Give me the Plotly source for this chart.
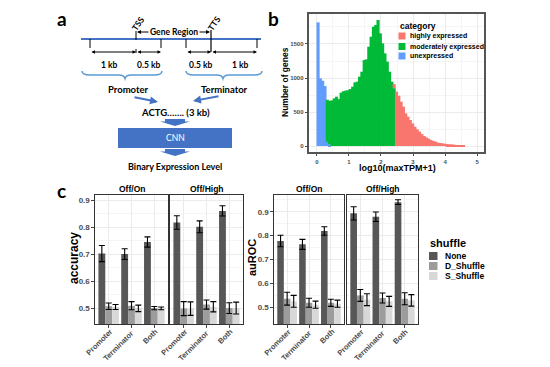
import plotly.graph_objects as go

W, H = 550, 367
def px(x): return x / W
def py(y): return 1 - y / H

# ---------------- panel b: histogram data ----------------
bin_width = 0.072
unexpressed_start = 0
unexpressed = [1818, 995, 960, 882, 60, 25]
moderately_start = 4
moderately = [620, 640, 670, 700, 725, 690, 785, 805, 815, 820, 838, 872, 936, 946,
              1019, 1093, 1264, 1274, 1460, 1607, 1754, 1779, 1852, 1656, 1509, 1362,
              1240, 1093, 946, 850]
highly_start = 33
highly = [60, 800, 740, 652, 578, 480, 431, 382, 333, 284, 245, 211, 176, 147, 127,
          108, 88, 73, 64, 49, 44, 39, 34, 29, 24, 24, 20, 15, 10, 8, 5]
hist_xticks = [0, 1, 2, 3, 4, 5]
hist_yticks = [0, 500, 1000, 1500]

# ---------------- panel c: bar data ----------------
regions = ["Promoter", "Terminator", "Both"]
shuffle_levels = ["None", "D_Shuffle", "S_Shuffle"]
shuffle_colors = ["#575757", "#9c9c9c", "#d8d8d8"]

acc_onoff_none = [0.702, 0.700, 0.745]
acc_onoff_d = [0.507, 0.509, 0.500]
acc_onoff_s = [0.504, 0.499, 0.499]
acc_onoff_none_err = [0.030, 0.020, 0.019]
acc_onoff_d_err = [0.012, 0.015, 0.006]
acc_onoff_s_err = [0.009, 0.012, 0.005]

acc_high_none = [0.817, 0.801, 0.860]
acc_high_d = [0.498, 0.513, 0.500]
acc_high_s = [0.498, 0.505, 0.500]
acc_high_none_err = [0.025, 0.022, 0.019]
acc_high_d_err = [0.026, 0.017, 0.020]
acc_high_s_err = [0.025, 0.019, 0.022]

auc_onoff_none = [0.777, 0.763, 0.819]
auc_onoff_d = [0.535, 0.518, 0.518]
auc_onoff_s = [0.524, 0.510, 0.514]
auc_onoff_none_err = [0.024, 0.021, 0.018]
auc_onoff_d_err = [0.027, 0.019, 0.015]
auc_onoff_s_err = [0.025, 0.015, 0.015]

auc_high_none = [0.893, 0.879, 0.940]
auc_high_d = [0.549, 0.538, 0.535]
auc_high_s = [0.531, 0.524, 0.528]
auc_high_none_err = [0.028, 0.020, 0.010]
auc_high_d_err = [0.025, 0.021, 0.025]
auc_high_s_err = [0.025, 0.021, 0.024]

acc_ticks = [0.5, 0.6, 0.7, 0.8, 0.9]
auc_ticks = [0.5, 0.6, 0.7, 0.8, 0.9]

fig = go.Figure()

# ---------- histogram (stacked via base) ----------
stack = {}
def add_hist(name, start, counts, color):
    xs, bases = [], []
    for i, c in enumerate(counts):
        b = start + i
        xs.append((b + 0.5) * bin_width)
        bases.append(stack.get(b, 0))
        stack[b] = stack.get(b, 0) + c
    # bars drawn slightly wider than the bin so neighbouring bins leave no seams
    fig.add_trace(go.Bar(x=xs, y=counts, base=bases, width=bin_width * 1.35, name=name,
                         marker=dict(color=color, line=dict(width=0)),
                         xaxis="x", yaxis="y", showlegend=False))

add_hist("unexpressed", unexpressed_start, unexpressed, "#619CFF")
add_hist("moderately expressed", moderately_start, moderately, "#00BA38")
add_hist("highly expressed", highly_start, highly, "#F8766D")

# ---------- grouped bars (dodge width 0.9) ----------
dodge = 0.9
bw = dodge / len(shuffle_levels)
panels = [
    ("x2", "y2", [acc_onoff_none, acc_onoff_d, acc_onoff_s],
     [acc_onoff_none_err, acc_onoff_d_err, acc_onoff_s_err]),
    ("x3", "y3", [acc_high_none, acc_high_d, acc_high_s],
     [acc_high_none_err, acc_high_d_err, acc_high_s_err]),
    ("x4", "y4", [auc_onoff_none, auc_onoff_d, auc_onoff_s],
     [auc_onoff_none_err, auc_onoff_d_err, auc_onoff_s_err]),
    ("x5", "y5", [auc_high_none, auc_high_d, auc_high_s],
     [auc_high_none_err, auc_high_d_err, auc_high_s_err]),
]
for xa, ya, means, errs in panels:
    for k, (lvl, col, m, e) in enumerate(zip(shuffle_levels, shuffle_colors, means, errs)):
        fig.add_trace(go.Bar(x=regions, y=m, base=0, name=lvl,
                             width=bw, offset=-dodge / 2 + k * bw,
                             marker=dict(color=col, line=dict(width=0)),
                             error_y=dict(type="data", array=e, color="black",
                                          thickness=1.1, width=3),
                             xaxis=xa, yaxis=ya, showlegend=False))

tickfont = dict(family="Liberation Sans, Arial", size=8, color="#4d4d4d", weight="bold")
grid = "#ebebeb"
minorgrid = "#f5f5f5"

def frame(d, lw=1.2, lc="#333333"):
    d.update(showline=True, mirror=True, linecolor=lc, linewidth=lw, zeroline=False,
             automargin=False)
    return d

layout_axes = {}
layout_axes["xaxis"] = frame(dict(domain=[px(309), px(484)], range=[-0.247, 5.216], anchor="y",
    tickvals=hist_xticks, ticks="outside", ticklen=2.5, tickcolor="#444",
    tickfont=dict(tickfont, size=6), showgrid=True, gridcolor=grid,
    minor=dict(dtick=0.5, tick0=0, showgrid=True, gridcolor=minorgrid)), 1.6, "#555")
layout_axes["yaxis"] = frame(dict(domain=[py(152), py(14)], range=[-88, 1941], anchor="x",
    tickvals=hist_yticks, ticks="outside", ticklen=2.5, tickcolor="#444",
    tickfont=dict(tickfont, size=6), showgrid=True, gridcolor=grid,
    minor=dict(dtick=250, tick0=0, showgrid=True, gridcolor=minorgrid)), 1.6, "#555")

x_lo, x_hi = -0.6, 2.6
bar_x_domains = {"x2": (95, 168), "x3": (170, 243), "x4": (274, 344), "x5": (347, 418)}
for xa, (l, r) in bar_x_domains.items():
    n = xa[1:]
    ya = "y" + n
    is_acc = n in ("2", "3")
    first = n in ("2", "4")
    layout_axes["xaxis" + n] = frame(dict(domain=[px(l), px(r)], anchor=ya,
        type="category", range=[x_lo, x_hi], ticks="outside", ticklen=2.5, tickcolor="#444",
        showticklabels=False, showgrid=True, gridcolor=grid))
    yd = dict(domain=[py(324), py(195)], anchor=xa,
              range=[0.441, 0.919] if is_acc else [0.429, 0.970],
              tickvals=acc_ticks if is_acc else auc_ticks,
              showgrid=True, gridcolor=grid,
              minor=dict(dtick=0.05, tick0=0.45, showgrid=True, gridcolor=minorgrid),
              tickfont=dict(tickfont, size=8))
    if first:
        yd.update(ticks="outside", ticklen=2.5, tickcolor="#444", showticklabels=True)
    else:
        yd.update(ticks="", showticklabels=False)
    layout_axes["yaxis" + n] = frame(yd)

fig.update_layout(**layout_axes)

# ---------------- annotations ----------------
ann = []
def text(x, y, s, size, color="black", family="Liberation Sans, Arial", bold=True,
         angle=0, xanchor="center", yanchor="middle"):
    ann.append(dict(x=px(x), y=py(y), xref="paper", yref="paper", text=s, showarrow=False,
                    font=dict(family=family, size=size, color=color,
                              weight="bold" if bold else "normal"),
                    textangle=angle, xanchor=xanchor, yanchor=yanchor))

def arrow(x0, y0, x1, y1, color="black", width=1, head=2, size=0.7, both=False):
    ann.append(dict(x=px(x1), y=py(y1), xref="paper", yref="paper", ax=x0 - x1, ay=y0 - y1,
                    axref="pixel", ayref="pixel", text="", showarrow=True,
                    arrowhead=head, startarrowhead=head, arrowsize=size, startarrowsize=size,
                    arrowwidth=width, arrowcolor=color,
                    arrowside="end+start" if both else "end"))

# rotated (45°) category labels: upper-right end of each label sits at its tick
lab_size = 7.5
for xa, (l, r) in bar_x_domains.items():
    for i, reg in enumerate(regions):
        tx = l + (i - x_lo) / (x_hi - x_lo) * (r - l)
        half = 0.354 * 0.55 * len(reg) * lab_size
        text(tx + 2 - half, 331 + half, reg, lab_size, color="#4d4d4d", angle=-45)

# panel labels
text(62, 18, "a", 19, family="Lato, Liberation Sans")
text(273, 18, "b", 19, family="Lato, Liberation Sans")
text(61, 190, "c", 19, family="Lato, Liberation Sans")

# panel a diagram text
LF = "Lato, Open Sans"
text(138, 24, "TSS", 8.5, family=LF, angle=-55)
text(214, 24, "TTS", 8.5, family=LF, angle=-55)
text(174, 32, "Gene Region", 8.5, family=LF)
text(109, 65, "1 kb", 8.5, family=LF)
text(148, 65, "0.5 kb", 8.5, family=LF)
text(200, 65, "0.5 kb", 8.5, family=LF)
text(240, 65, "1 kb", 8.5, family=LF)
text(128, 89, "Promoter", 9.5, family=LF)
text(224, 89, "Terminator", 9.5, family=LF)
text(175, 112, "ACTG……. (3 kb)", 9.5, family=LF)
text(175, 138, "CNN", 8.5, color="white", family=LF, bold=False)
text(175, 166, "Binary Expression Level", 9, family=LF)

# arrows in panel a
arrow(150, 32, 137, 32, size=0.8)
arrow(198, 32, 210, 32, size=0.8)
arrow(90, 52, 136, 52, both=True, size=0.7)
arrow(136, 52, 161, 52, both=True, size=0.7)
arrow(186, 52, 211, 52, both=True, size=0.7)
arrow(211, 52, 257, 52, both=True, size=0.7)
arrow(133, 97, 158, 102, color="#4472C4", width=2, size=0.8)
arrow(220, 96, 193, 101, color="#4472C4", width=2, size=0.8)

# panel b axis titles & legend
text(285, 82, "Number of genes", 8.5, angle=-90)
text(397, 168, "log10(maxTPM+1)", 9)
text(398, 26, "category", 8.5, xanchor="left")
cat_labels = ["highly expressed", "moderately expressed", "unexpressed"]
cat_colors = ["#F8766D", "#00BA38", "#619CFF"]
cat_rows = [36, 46.5, 56]
for lab, yy in zip(cat_labels, cat_rows):
    text(408, yy, lab, 7, xanchor="left")

# panel c titles, strips, legend
text(74, 258, "accuracy", 12, angle=-90)
text(252, 258, "auROC", 11, angle=-90)
strip_names = ["Off/On", "Off/High", "Off/On", "Off/High"]
for (l, r), s in zip(bar_x_domains.values(), strip_names):
    text((l + r) / 2, 189, s, 8.5)
text(428, 243, "shuffle", 11, xanchor="left")
sh_rows = [256, 266, 276]
for lab, yy in zip(shuffle_levels, sh_rows):
    text(443, yy, lab, 8.5, xanchor="left")

fig.update_layout(annotations=ann)

# ---------------- shapes ----------------
shapes = []
def line(x0, y0, x1, y1, color="black", width=1, dash="solid"):
    shapes.append(dict(type="line", xref="paper", yref="paper", x0=px(x0), y0=py(y0),
                       x1=px(x1), y1=py(y1), line=dict(color=color, width=width, dash=dash)))

def path(pts, fill=None, color="#4472C4", width=1.5, closed=False):
    d = "M " + " L ".join(f"{px(x)},{py(y)}" for x, y in pts) + (" Z" if closed else "")
    shapes.append(dict(type="path", xref="paper", yref="paper", path=d,
                       fillcolor=fill if fill else "rgba(0,0,0,0)",
                       line=dict(color=color, width=width if not fill else 0)))

line(81, 39, 261, 39, color="#4472C4", width=2.2)
line(136, 31, 136, 53, dash="dash", width=1)
line(211, 30, 211, 52, width=1.2)
for xx in (90, 161, 186, 257):
    line(xx, 39, xx, 53, dash="dash", width=1)

def brace(x0, x1, xt, y0=71, y1=75, y2=78.5, col="#5B9BD5"):
    d = (f"M {px(x0)},{py(y0)} Q {px(x0)},{py(y1)} {px(x0+8)},{py(y1)} "
         f"L {px(xt-6)},{py(y1)} Q {px(xt-1)},{py(y1)} {px(xt)},{py(y2)} "
         f"Q {px(xt+1)},{py(y1)} {px(xt+6)},{py(y1)} "
         f"L {px(x1-8)},{py(y1)} Q {px(x1)},{py(y1)} {px(x1)},{py(y0)}")
    shapes.append(dict(type="path", xref="paper", yref="paper", path=d,
                       line=dict(color=col, width=1.5)))

brace(82, 162, 125)
brace(186, 262, 223)

def chevron(ytop):
    path([(165, ytop), (185, ytop), (185, ytop + 2.5), (190, ytop + 2.5), (175, ytop + 7),
          (160, ytop + 2.5), (165, ytop + 2.5)], fill="#4472C4", closed=True)

chevron(119)
chevron(149)
shapes.append(dict(type="rect", xref="paper", yref="paper", x0=px(118), x1=px(232),
                   y0=py(148), y1=py(128), fillcolor="#4472C4", line=dict(width=0)))

# legend keys
for col, yy in zip(cat_colors, cat_rows):
    shapes.append(dict(type="rect", xref="paper", yref="paper", x0=px(398.5), x1=px(405.5),
                       y0=py(yy + 3.5), y1=py(yy - 3.5), fillcolor=col, line=dict(width=0)))
for col, yy in zip(shuffle_colors, sh_rows):
    shapes.append(dict(type="rect", xref="paper", yref="paper", x0=px(429), x1=px(437.5),
                       y0=py(yy + 4), y1=py(yy - 4), fillcolor=col, line=dict(width=0)))

fig.update_layout(shapes=shapes,
                  width=W, height=H, margin=dict(l=0, r=0, t=0, b=0, autoexpand=False),
                  paper_bgcolor="white", plot_bgcolor="white",
                  barmode="overlay", showlegend=False)

# remove the browser's default 8px page margin so the figure sits at the window origin
fig.write_html("out.html",
               config={"displayModeBar": False},
               post_script="document.body.style.margin='0px';"
                           "document.body.style.padding='0px';"
                           "document.body.style.overflow='hidden';")
